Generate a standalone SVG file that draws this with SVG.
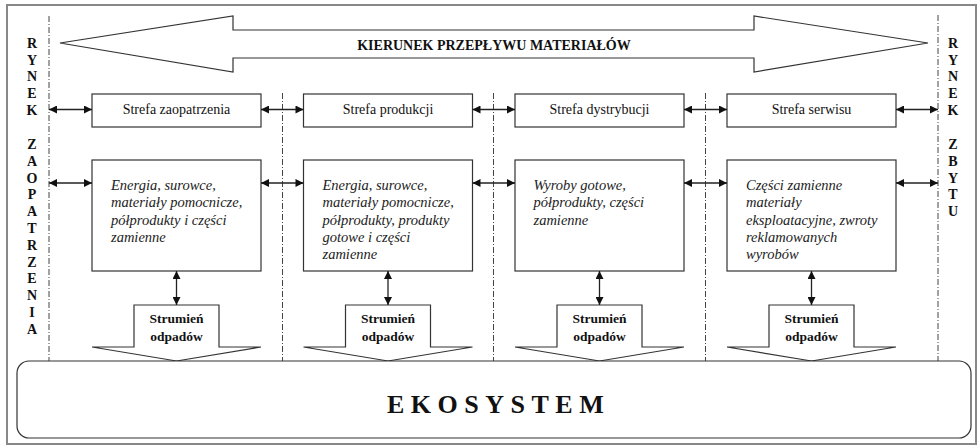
<svg xmlns="http://www.w3.org/2000/svg" width="979" height="446" viewBox="0 0 979 446">
<defs>
<marker id="ah" viewBox="0 0 10 10" refX="10" refY="5" markerWidth="9" markerHeight="8" markerUnits="userSpaceOnUse" orient="auto-start-reverse">
<path d="M0,0 L10,5 L0,10 z" fill="#111"/>
</marker>
<style>
.frame{fill:none;stroke:#888;stroke-width:2}
.shape{fill:#fff;stroke:#333;stroke-width:1.2}
.dash{stroke:#444;stroke-width:1;stroke-dasharray:6 2 1 2;fill:none}
.conn{stroke:#222;stroke-width:1.3;fill:none;marker-start:url(#ah);marker-end:url(#ah)}
text{font-family:'Liberation Serif','DejaVu Serif',serif;fill:#111}
.zone{font-size:14px;text-anchor:middle}
.desc{font-size:14.5px;font-style:italic;fill:#222}
.b{font-weight:bold}
.side{font-size:14px;font-weight:bold;text-anchor:middle}
.waste{font-size:13.5px;font-weight:bold;text-anchor:middle}
</style>
</defs>
<rect class="frame" x="7" y="5" width="969" height="439"/>

<g id="dividers">
<line class="dash" x1="49" y1="16" x2="49" y2="361"/>
<line class="dash" x1="282.5" y1="93" x2="282.5" y2="361"/>
<line class="dash" x1="493.5" y1="93" x2="493.5" y2="361"/>
<line class="dash" x1="705.5" y1="93" x2="705.5" y2="361"/>
<line class="dash" x1="938" y1="15" x2="938" y2="361"/>
</g>

<g id="flow-arrow">
<polygon class="shape" points="60,43 233,16 233,30 754,30 754,16 928,43 754,72 754,58 233,58 233,72"/>
<text class="b" x="494" y="50" font-size="14" text-anchor="middle">KIERUNEK PRZEPŁYWU MATERIAŁÓW</text>
</g>

<g id="rynek-zaopatrzenia">
<text class="side" x="32" y="48">R</text><text class="side" x="32" y="65">Y</text><text class="side" x="32" y="81">N</text><text class="side" x="32" y="98">E</text><text class="side" x="32" y="115">K</text>
<text class="side" x="32" y="149">Z</text><text class="side" x="32" y="166">A</text><text class="side" x="32" y="183">O</text><text class="side" x="32" y="199">P</text><text class="side" x="32" y="216">A</text><text class="side" x="32" y="233">T</text><text class="side" x="32" y="250">R</text><text class="side" x="32" y="267">Z</text><text class="side" x="32" y="283">E</text><text class="side" x="32" y="300">N</text><text class="side" x="32" y="317">I</text><text class="side" x="32" y="334">A</text>
</g>

<g id="rynek-zbytu">
<text class="side" x="953" y="48">R</text><text class="side" x="953" y="65">Y</text><text class="side" x="953" y="81">N</text><text class="side" x="953" y="98">E</text><text class="side" x="953" y="115">K</text>
<text class="side" x="953" y="149">Z</text><text class="side" x="953" y="166">B</text><text class="side" x="953" y="183">Y</text><text class="side" x="953" y="199">T</text><text class="side" x="953" y="216">U</text>
</g>

<g id="strefa-zaopatrzenia">
<rect class="shape" x="92" y="94" width="169" height="33"/>
<text class="zone" x="176.5" y="114">Strefa zaopatrzenia</text>
</g>
<g id="strefa-produkcji">
<rect class="shape" x="303.5" y="94" width="169" height="33"/>
<text class="zone" x="388" y="114">Strefa produkcji</text>
</g>
<g id="strefa-dystrybucji">
<rect class="shape" x="515" y="94" width="169" height="33"/>
<text class="zone" x="599.5" y="114">Strefa dystrybucji</text>
</g>
<g id="strefa-serwisu">
<rect class="shape" x="727" y="94" width="169" height="33"/>
<text class="zone" x="811.5" y="114">Strefa serwisu</text>
</g>

<g id="materialy-zaopatrzenie">
<rect class="shape" x="92" y="160" width="169" height="111"/>
<text class="desc" x="111" y="190">Energia, surowce,<tspan x="111" dy="17.3">materiały pomocnicze,</tspan><tspan x="111" dy="17.3">półprodukty i części</tspan><tspan x="111" dy="17.3">zamienne</tspan></text>
</g>
<g id="materialy-produkcja">
<rect class="shape" x="303.5" y="160" width="169" height="111"/>
<text class="desc" x="322.5" y="190">Energia, surowce,<tspan x="322.5" dy="17.3">materiały pomocnicze,</tspan><tspan x="322.5" dy="17.3">półprodukty, produkty</tspan><tspan x="322.5" dy="17.3">gotowe i części</tspan><tspan x="322.5" dy="17.3">zamienne</tspan></text>
</g>
<g id="materialy-dystrybucja">
<rect class="shape" x="515" y="160" width="169" height="111"/>
<text class="desc" x="533.5" y="190">Wyroby gotowe,<tspan x="533.5" dy="17.3">półprodukty, części</tspan><tspan x="533.5" dy="17.3">zamienne</tspan></text>
</g>
<g id="materialy-serwis">
<rect class="shape" x="727" y="160" width="169" height="111"/>
<text class="desc" x="746" y="190">Części zamienne<tspan x="746" dy="17.3">materiały</tspan><tspan x="746" dy="17.3">eksploatacyjne, zwroty</tspan><tspan x="746" dy="17.3">reklamowanych</tspan><tspan x="746" dy="17.3">wyrobów</tspan></text>
</g>

<g id="odpady-1">
<polygon class="shape" points="134,305 219,305 219,347 261,347 176.5,361 92,347 134,347"/>
<text class="waste" x="176.5" y="323">Strumień</text><text class="waste" x="176.5" y="341">odpadów</text>
</g>
<g id="odpady-2">
<polygon class="shape" points="345.5,305 430.5,305 430.5,347 472.5,347 388,361 303.5,347 345.5,347"/>
<text class="waste" x="388" y="323">Strumień</text><text class="waste" x="388" y="341">odpadów</text>
</g>
<g id="odpady-3">
<polygon class="shape" points="557,305 642,305 642,347 684,347 599.5,361 515,347 557,347"/>
<text class="waste" x="599.5" y="323">Strumień</text><text class="waste" x="599.5" y="341">odpadów</text>
</g>
<g id="odpady-4">
<polygon class="shape" points="769,305 854,305 854,347 896,347 811.5,361 727,347 769,347"/>
<text class="waste" x="811.5" y="323">Strumień</text><text class="waste" x="811.5" y="341">odpadów</text>
</g>

<g id="ekosystem">
<rect class="shape" x="17" y="361" width="954" height="77" rx="12"/>
<text class="b" x="387" y="413" font-size="26" letter-spacing="6.5">EKOSYSTEM</text>
</g>

<g id="connectors">
<line class="conn" x1="49" y1="109.5" x2="92" y2="109.5"/>
<line class="conn" x1="261" y1="109.5" x2="303.5" y2="109.5"/>
<line class="conn" x1="472.5" y1="109.5" x2="515" y2="109.5"/>
<line class="conn" x1="684" y1="109.5" x2="727" y2="109.5"/>
<line class="conn" x1="896" y1="109.5" x2="938" y2="109.5"/>
<line class="conn" x1="49" y1="183" x2="92" y2="183"/>
<line class="conn" x1="261" y1="183" x2="303.5" y2="183"/>
<line class="conn" x1="472.5" y1="183" x2="515" y2="183"/>
<line class="conn" x1="684" y1="183" x2="727" y2="183"/>
<line class="conn" x1="896" y1="183" x2="938" y2="183"/>
<line class="conn" x1="176.5" y1="271" x2="176.5" y2="305"/>
<line class="conn" x1="388" y1="271" x2="388" y2="305"/>
<line class="conn" x1="599.5" y1="271" x2="599.5" y2="305"/>
<line class="conn" x1="811.5" y1="271" x2="811.5" y2="305"/>
</g>
</svg>
